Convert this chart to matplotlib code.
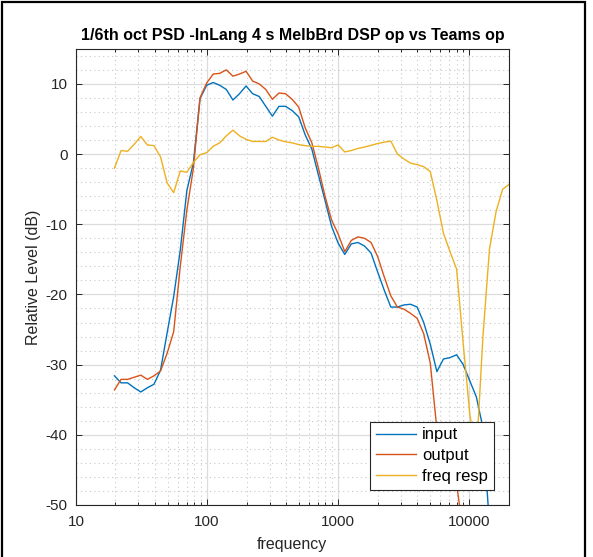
import numpy as np
import matplotlib
matplotlib.use("Agg")
import matplotlib.pyplot as plt
from matplotlib.ticker import LogLocator, MultipleLocator, FixedLocator, FixedFormatter, NullFormatter
from matplotlib.patches import Rectangle

plt.rcParams['font.family'] = ['Liberation Sans', 'DejaVu Sans']
plt.rcParams['axes.unicode_minus'] = False

# 1/6 octave band centres (Hz)
freq = [19.686, 22.097, 24.803, 27.840, 31.250, 35.077, 39.373, 44.194, 49.606, 55.681,
        62.500, 70.154, 78.745, 88.388, 99.213, 111.36, 125.00, 140.31, 157.49, 176.78,
        198.43, 222.72, 250.00, 280.62, 314.98, 353.55, 396.85, 445.45, 500.00, 561.23,
        629.96, 707.11, 793.70, 890.90, 1000.0, 1122.5, 1259.9, 1414.2, 1587.4, 1781.8,
        2000.0, 2244.9, 2519.8, 2828.4, 3174.8, 3563.6, 4000.0, 4489.8, 5039.7, 5656.9,
        6349.6, 7127.2, 8000.0, 8979.7, 10079, 11314, 12699, 14254, 16000, 17959, 20159]

# band levels (dB)
lvl_input = [-31.6, -32.6, -32.6, -33.3, -33.9, -33.3, -32.8, -30.8, -25.5, -20.3,
             -13.7, -5.2, -1.2, 7.9, 9.8, 10.2, 9.8, 9.2, 7.7, 8.6,
             9.7, 8.6, 8.2, 6.8, 5.4, 6.8, 6.8, 6.2, 5.3, 2.7,
             0.7, -3.0, -6.6, -10.3, -12.7, -14.3, -12.8, -12.6, -13.1, -14.1,
             -16.8, -19.4, -21.8, -21.8, -21.5, -21.4, -21.8, -24.0, -27.1, -31.0,
             -29.2, -29.0, -28.6, -30.0, -32.3, -34.6, -39.0, -53.0]

lvl_output = [-33.6, -32.1, -32.1, -31.8, -31.5, -32.1, -31.6, -30.9, -28.4, -25.3,
              -16.0, -8.0, -2.0, 8.0, 10.1, 11.4, 11.5, 12.0, 11.1, 11.4,
              11.8, 10.4, 10.0, 9.2, 7.8, 8.7, 8.6, 7.8, 6.7, 3.7,
              1.6, -2.0, -6.0, -9.4, -11.4, -13.9, -12.3, -11.8, -12.0, -12.6,
              -14.6, -17.5, -20.2, -21.8, -22.1, -22.7, -23.4, -25.6, -29.8, -39.2,
              -42.0, -45.0, -47.0, -54.0]

lvl_resp = [-2.0, 0.5, 0.4, 1.4, 2.5, 1.3, 1.2, -0.4, -4.1, -5.5,
            -2.4, -2.6, -1.2, -0.1, 0.2, 1.1, 1.6, 2.6, 3.4, 2.6,
            2.1, 1.8, 1.8, 1.8, 2.4, 2.0, 1.75, 1.6, 1.35, 1.2,
            1.1, 1.1, 1.0, 0.9, 1.3, 0.3, 0.5, 0.8, 1.0, 1.25,
            1.5, 1.7, 1.85, 0.0, -0.7, -1.3, -1.5, -1.8, -2.5, -6.6,
            -11.3, -13.9, -16.4, -27.0, -37.0, -43.0, -26.0, -13.5, -8.2, -5.0,
            -4.3]

fig = plt.figure(figsize=(5.93, 5.57), dpi=100)
ax = fig.add_axes([0.128, 0.0934, 0.730, 0.819])

ax.semilogx(freq[:len(lvl_input)], lvl_input, color='#0072BD', lw=1.0, label='input')
ax.semilogx(freq[:len(lvl_output)], lvl_output, color='#D95319', lw=1.0, label='output')
ax.semilogx(freq[:len(lvl_resp)], lvl_resp, color='#EDB120', lw=1.0, label='freq resp')

ax.set_xlim(10, 20000)
ax.set_ylim(-50, 15)

# decade ticks as plain numbers
ax.xaxis.set_major_locator(FixedLocator([10, 100, 1000, 10000]))
ax.xaxis.set_major_formatter(FixedFormatter(['10', '100', '1000', '10000']))
ax.xaxis.set_minor_locator(LogLocator(base=10, subs=np.arange(2, 10), numticks=20))
ax.xaxis.set_minor_formatter(NullFormatter())
ax.yaxis.set_major_locator(FixedLocator([-50, -40, -30, -20, -10, 0, 10]))
ax.yaxis.set_minor_locator(MultipleLocator(2))

ax.grid(which='major', color='#dcdcdc', lw=0.9, ls='-')
ax.grid(which='minor', color='#c8c8c8', lw=0.8, ls=(0, (1, 3)))
ax.set_axisbelow(True)

ax.tick_params(which='both', direction='in', top=True, right=True,
               colors='#262626', labelsize=11, width=0.7)
ax.tick_params(which='major', length=4)
ax.tick_params(which='minor', length=2.5)
ax.tick_params(axis='x', which='major', pad=7)
ax.tick_params(axis='y', which='major', pad=6)
ax.tick_params(axis='y', which='minor', length=0)
for s in ax.spines.values():
    s.set_color('#262626')
    s.set_linewidth(0.8)

ax.set_title('1/6th oct PSD -InLang 4 s MelbBrd DSP op vs Teams op',
             fontsize=11.5, fontweight='bold', color='black', pad=6)
ax.set_xlabel('frequency', fontsize=11.5, color='#262626', labelpad=6)
ax.set_ylabel('Relative Level (dB)', fontsize=11.5, color='#262626', labelpad=3)

leg = ax.legend(loc='lower right', bbox_to_anchor=(0.966, 0.033), borderaxespad=0,
                fontsize=12, fancybox=False, framealpha=1, edgecolor='#262626',
                handlelength=2.4, handletextpad=0.4, borderpad=0.35, labelspacing=0.35)
leg.get_frame().set_linewidth(0.8)

# outer frame around the figure
fig.add_artist(Rectangle((1.5 / 593, -0.02), 583.5 / 593, 1.02 - 1.5 / 557,
                         transform=fig.transFigure, fill=False, ec='black', lw=1.6))

fig.savefig('out.png', dpi=100)
